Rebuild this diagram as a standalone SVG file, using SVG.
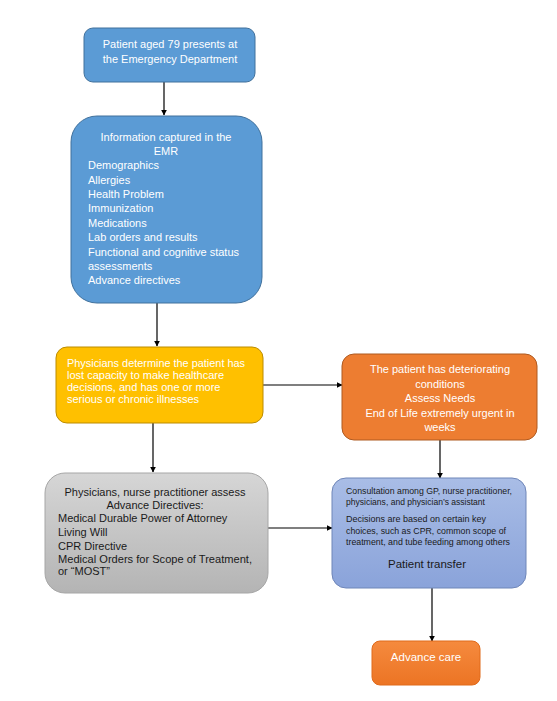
<svg xmlns="http://www.w3.org/2000/svg" width="557" height="701" viewBox="0 0 557 701">
<style>
text{font-family:"Liberation Sans",Arial,sans-serif;font-size:11px;}
.w{fill:#ffffff;}
.k{fill:#1a1a1a;}
.c{text-anchor:middle;}
.conn{stroke:#000;stroke-width:1.2;fill:none;marker-end:url(#ah);}
</style>
<defs>
<marker id="ah" viewBox="0 0 10 10" refX="9" refY="5" markerWidth="6" markerHeight="6" orient="auto" markerUnits="userSpaceOnUse">
<path d="M0,0 L10,5 L0,10 z" fill="#000"/>
</marker>
<linearGradient id="gGray" x1="0" y1="0" x2="0" y2="1">
<stop offset="0" stop-color="#d6d6d6"/><stop offset="1" stop-color="#b4b4b4"/>
</linearGradient>
<linearGradient id="gLav" x1="0" y1="0" x2="0" y2="1">
<stop offset="0" stop-color="#a9bde6"/><stop offset="1" stop-color="#8aa3da"/>
</linearGradient>
<linearGradient id="gOr" x1="0" y1="0" x2="0" y2="1">
<stop offset="0" stop-color="#f58a3e"/><stop offset="1" stop-color="#ec7424"/>
</linearGradient>
</defs>
<rect width="557" height="701" fill="#ffffff"/>
<g id="connectors">
<path class="conn" d="M164,82 V115"/>
<path class="conn" d="M157,303 V346"/>
<path class="conn" d="M263,385 H342"/>
<path class="conn" d="M440,440 V478"/>
<path class="conn" d="M153,423 V472"/>
<path class="conn" d="M268,528 H332"/>
<path class="conn" d="M432,588 V641"/>
</g>
<g id="n1">
<rect x="84" y="28" width="171" height="54" rx="9" fill="#5b9bd5" stroke="#41719c" stroke-width="1"/>
<text class="w c" x="170" y="48">Patient aged 79 presents at</text>
<text class="w c" x="170" y="63">the Emergency Department</text>
</g>
<g id="n2">
<rect x="71" y="116" width="191" height="187" rx="26" fill="#5b9bd5" stroke="#41719c" stroke-width="1"/>
<text class="w c" x="166" y="141">Information captured in the</text>
<text class="w c" x="166" y="155">EMR</text>
<text class="w" x="88" y="169">Demographics</text>
<text class="w" x="88" y="184">Allergies</text>
<text class="w" x="88" y="198">Health Problem</text>
<text class="w" x="88" y="212">Immunization</text>
<text class="w" x="88" y="227">Medications</text>
<text class="w" x="88" y="241">Lab orders and results</text>
<text class="w" x="88" y="256">Functional and cognitive status</text>
<text class="w" x="88" y="270">assessments</text>
<text class="w" x="88" y="284">Advance directives</text>
</g>
<g id="n3">
<rect x="56" y="347" width="207" height="76" rx="11" fill="#ffc000" stroke="#bc8c00" stroke-width="1"/>
<text class="w" x="67" y="367" textLength="178" lengthAdjust="spacingAndGlyphs">Physicians determine the patient has</text>
<text class="w" x="67" y="379">lost capacity to make healthcare</text>
<text class="w" x="67" y="391">decisions, and has one or more</text>
<text class="w" x="67" y="403">serious or chronic illnesses</text>
</g>
<g id="n4">
<rect x="342" y="354" width="195" height="86" rx="12" fill="#ed7d31" stroke="#ae5a21" stroke-width="1"/>
<text class="w c" x="440" y="373">The patient has deteriorating</text>
<text class="w c" x="440" y="388">conditions</text>
<text class="w c" x="440" y="402">Assess Needs</text>
<text class="w c" x="440" y="417">End of Life extremely urgent in</text>
<text class="w c" x="440" y="431">weeks</text>
</g>
<g id="n5">
<rect x="45" y="473" width="223" height="120" rx="20" fill="url(#gGray)" stroke="#a6a6a6" stroke-width="1"/>
<text class="k c" x="155" y="496">Physicians, nurse practitioner assess</text>
<text class="k c" x="155" y="509">Advance Directives:</text>
<text class="k" x="58" y="522">Medical Durable Power of Attorney</text>
<text class="k" x="58" y="536">Living Will</text>
<text class="k" x="58" y="550">CPR Directive</text>
<text class="k" x="58" y="563" textLength="194" lengthAdjust="spacingAndGlyphs">Medical Orders for Scope of Treatment,</text>
<text class="k" x="58" y="575">or “MOST”</text>
</g>
<g id="n6">
<rect x="332" y="478" width="194" height="110" rx="14" fill="url(#gLav)" stroke="#6f86b8" stroke-width="1"/>
<text class="k" x="346" y="494" style="font-size:9px" textLength="166" lengthAdjust="spacingAndGlyphs">Consultation among GP, nurse practitioner,</text>
<text class="k" x="346" y="505" style="font-size:9px" textLength="139" lengthAdjust="spacingAndGlyphs">physicians, and physician’s assistant</text>
<text class="k" x="346" y="522" style="font-size:9px" textLength="140" lengthAdjust="spacingAndGlyphs">Decisions are based on certain key</text>
<text class="k" x="346" y="534" style="font-size:9px" textLength="160" lengthAdjust="spacingAndGlyphs">choices, such as CPR, common scope of</text>
<text class="k" x="346" y="545" style="font-size:9px" textLength="164" lengthAdjust="spacingAndGlyphs">treatment, and tube feeding among others</text>
<text class="k c" x="427" y="568" style="font-size:11.5px">Patient transfer</text>
</g>
<g id="n7">
<rect x="372" y="641" width="108" height="44" rx="8" fill="url(#gOr)" stroke="#e06a1a" stroke-width="1"/>
<text class="w c" x="426" y="661" style="font-size:11.5px">Advance care</text>
</g>
</svg>
